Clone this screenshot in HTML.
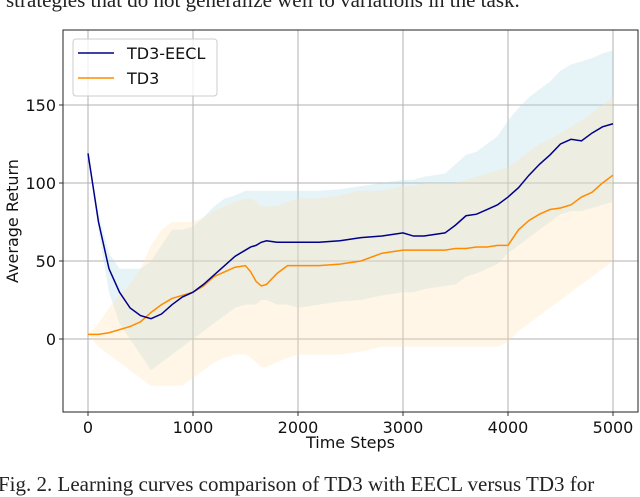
<!DOCTYPE html>
<html><head><meta charset="utf-8"><style>
body{margin:0;background:#fff;width:640px;height:483px;overflow:hidden;position:relative;font-family:"DejaVu Sans",sans-serif}
.cap{position:absolute;left:0;font-family:"Liberation Serif",serif;font-size:21px;color:#222;white-space:nowrap}
</style></head><body>
<div class="cap" style="top:-12px;left:6px">strategies that do not generalize well to variations in the task.</div>
<div class="cap" style="top:472px;left:-2px">Fig. 2. Learning curves comparison of TD3 with EECL versus TD3 for</div>
<svg id="chart" width="640" height="483" style="position:absolute;left:0;top:0"></svg>
<script>
const xs=[0,100,200,300,400,500,600,700,800,900,1000,1100,1200,1300,1400,1500,1550,1600,1650,1700,1800,1900,2000,2200,2400,2600,2800,3000,3100,3200,3400,3500,3600,3700,3800,3900,4000,4100,4200,4300,4400,4500,4600,4700,4800,4900,5000];
const eecl=[119,75,45,30,20,15,13,16,22,27,30,35,41,47,53,57,59,60,62,63,62,62,62,62,63,65,66,68,66,66,68,73,79,80,83,86,91,97,105,112,118,125,128,127,132,136,138];
const td3=[3,3,4,6,8,11,17,22,26,28,30,34,40,43,46,47,43,37,34,35,42,47,47,47,48,50,55,57,57,57,57,58,58,59,59,60,60,70,76,80,83,84,86,91,94,100,105];
const eeclHi=[119,80,55,45,45,45,50,60,70,70,72,78,85,90,92,95,95,95,95,95,95,95,95,95,96,98,100,102,102,104,106,112,118,120,125,130,140,148,155,160,165,172,176,178,180,183,185];
const eeclLo=[119,70,30,10,0,-10,-20,-15,-10,-5,0,5,10,15,20,22,22,22,25,25,22,22,20,22,24,25,28,30,30,32,34,35,40,42,45,48,55,60,65,70,75,80,82,82,84,86,88];
const tdHi=[3,10,20,28,35,45,60,70,75,75,75,78,82,85,88,90,90,88,85,85,85,88,90,90,92,95,95,98,98,100,100,100,102,104,106,108,110,115,120,125,128,132,136,140,145,150,155];
const tdLo=[3,-5,-10,-15,-20,-25,-30,-30,-30,-30,-25,-20,-15,-12,-10,-10,-12,-15,-18,-18,-15,-12,-10,-10,-10,-8,-5,-5,-5,-5,-5,-5,-5,-5,-5,-5,-2,5,10,15,20,25,30,35,40,45,50];
const xTicks=[0,1000,2000,3000,4000,5000];
const yTicks=[0,50,100,150];
const L=63,R=638,T=30,B=412;
const X=v=>88+v*0.105;
const Y=v=>339-v*1.56;
const svg=document.getElementById('chart');
const NS='http://www.w3.org/2000/svg';
function mk(t,a){const e=document.createElementNS(NS,t);for(const k in a)e.setAttribute(k,a[k]);svg.appendChild(e);return e;}
xTicks.forEach(t=>{
 const g=mk('line',{x1:X(t),x2:X(t),y1:T,y2:B,stroke:'#b0b0b0','stroke-width':1});
 
 
 const tk=mk('line',{x1:X(t),x2:X(t),y1:B,y2:B+4,stroke:'#333'});
 
 
 const tx=mk('text',{x:X(t),y:B+21,'text-anchor':'middle','font-size':16,fill:'#111'});
 tx.textContent=t;
 
 
});
yTicks.forEach(t=>{
 const g=mk('line',{x1:L,x2:R,y1:Y(t),y2:Y(t),stroke:'#b0b0b0','stroke-width':1});
 
 
 const tk=mk('line',{x1:L-4,x2:L,y1:Y(t),y2:Y(t),stroke:'#333'});
 
 
 const tx=mk('text',{x:L-7,y:Y(t)+6,'text-anchor':'end','font-size':16,fill:'#111'});
 tx.textContent=t;
 
 
});
function band(hi,lo,col,op,name){
 let d='M'+xs.map((x,i)=>X(x)+','+Y(hi[i])).join('L');
 for(let i=xs.length-1;i>=0;i--)d+='L'+X(xs[i])+','+Y(lo[i]);
 const p=mk('path',{d:d+'Z',fill:col,'fill-opacity':op});
 
 
}
band(eeclHi,eeclLo,'#add8e6',0.3,'td3-eecl-variance-band');
band(tdHi,tdLo,'#ffe0b0',0.3,'td3-variance-band');
function line(arr,col,name){
 const p=mk('path',{d:'M'+xs.map((x,i)=>X(x)+','+Y(arr[i])).join('L'),fill:'none',stroke:col,'stroke-width':1.5});
 
 
}
line(td3,'#ff8c00','td3-line');
line(eecl,'#00008b','td3-eecl-line');
const fr=mk('rect',{x:L,y:T,width:R-L,height:B-T,fill:'none',stroke:'#222','stroke-width':1});


const xl=mk('text',{x:(L+R)/2,y:448,'text-anchor':'middle','font-size':16,fill:'#111'});
xl.textContent='Time Steps';


const yl=mk('text',{x:0,y:0,'text-anchor':'middle','font-size':16,fill:'#111',transform:'translate(18,'+(T+B)/2+') rotate(-90)'});
yl.textContent='Average Return';


const lg=mk('rect',{x:73,y:39,width:144,height:57,rx:3,fill:'#fff','fill-opacity':0.8,stroke:'#ccc'});


[['TD3-EECL','#00008b',53],['TD3','#ff8c00',78]].forEach(([n,c,y])=>{
 const l=mk('line',{x1:78,x2:114,y1:y,y2:y,stroke:c,'stroke-width':1.5});
 
 
 const t=mk('text',{x:127,y:y+6,'font-size':16,fill:'#111'});
 t.textContent=n;
 
 
});
</script>
</body></html>
